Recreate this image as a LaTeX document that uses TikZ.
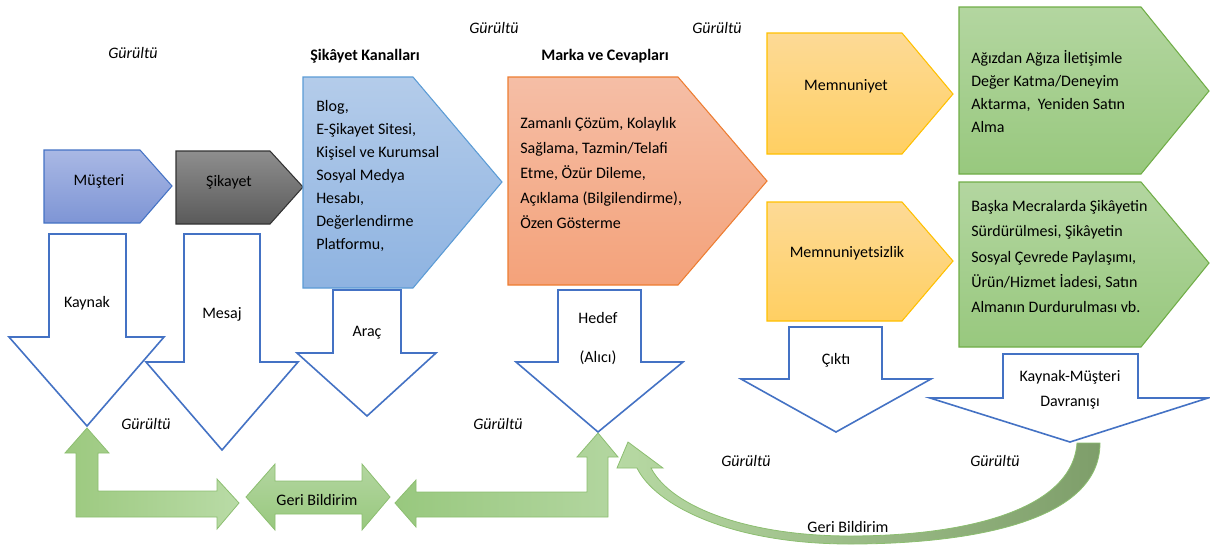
\documentclass[tikz,border=0pt]{standalone}
\usepackage{fontspec}
\setmainfont{Carlito}
\definecolor{arrowblue}{HTML}{4472C4}
\definecolor{mtop}{HTML}{A9B8E4}
\definecolor{mbot}{HTML}{7E95D5}
\definecolor{mbord}{HTML}{4472C4}
\definecolor{gtop}{HTML}{8E8E8E}
\definecolor{gbot}{HTML}{5A5A5A}
\definecolor{gbord}{HTML}{333333}
\definecolor{ktop}{HTML}{B4CCEA}
\definecolor{kbot}{HTML}{8EB3E1}
\definecolor{kbord}{HTML}{5B9BD5}
\definecolor{otop}{HTML}{F5BEA6}
\definecolor{obot}{HTML}{F4A27A}
\definecolor{obord}{HTML}{ED7D31}
\definecolor{ytop}{HTML}{FDDA96}
\definecolor{ybot}{HTML}{FFCF62}
\definecolor{ybord}{HTML}{FFC000}
\definecolor{grtop}{HTML}{B3D6A0}
\definecolor{grbot}{HTML}{98C87E}
\definecolor{grbord}{HTML}{70AD47}
\definecolor{fbA}{HTML}{9CC97F}
\definecolor{fbB}{HTML}{B9DBA6}
\definecolor{fbbord}{HTML}{8CBE70}
\definecolor{curvL}{HTML}{B7D9A3}
\definecolor{curvR}{HTML}{7E9E6A}
\begin{document}
\begin{tikzpicture}[x=0.75pt,y=-0.75pt,
  lbl/.style={font=\fontsize{12}{14}\selectfont, inner sep=0pt, anchor=base},
  noise/.style={font=\fontsize{12}{14}\selectfont\itshape, inner sep=0pt, anchor=base},
  head/.style={font=\fontsize{12}{14}\selectfont\bfseries, inner sep=0pt, anchor=base},
  body/.style={inner sep=0pt, anchor=north west, align=left},
  outarrow/.style={draw=arrowblue, line width=1.2pt, fill=white, line join=miter},
  pent/.style={line width=0.8pt, line join=miter},
  fback/.style={draw=fbbord, line width=0.6pt, line join=miter}
]
\useasboundingbox (0,0) rectangle (1210,544);

% pentagons
\path[pent, draw=mbord, top color=mtop, bottom color=mbot] (44,150) -- (140,150) -- (172,186) -- (140,223) -- (44,223) -- cycle;
\path[pent, draw=gbord, top color=gtop, bottom color=gbot] (176,151) -- (270,151) -- (303,187) -- (270,224) -- (176,224) -- cycle;
\path[pent, draw=kbord, top color=ktop, bottom color=kbot] (303,77) -- (413,77) -- (502,182) -- (413,288) -- (303,288) -- cycle;
\path[pent, draw=obord, top color=otop, bottom color=obot] (508,77) -- (678,77) -- (767,181) -- (678,285) -- (508,285) -- cycle;
\path[pent, draw=ybord, top color=ytop, bottom color=ybot] (767,33) -- (902,33) -- (953,94) -- (902,154) -- (767,154) -- cycle;
\path[pent, draw=ybord, top color=ytop, bottom color=ybot] (767,202) -- (902,202) -- (953,261) -- (902,321) -- (767,321) -- cycle;
\path[pent, draw=grbord, top color=grtop, bottom color=grbot] (959,7) -- (1141,7) -- (1209,91) -- (1141,174) -- (959,174) -- cycle;
\path[pent, draw=grbord, top color=grtop, bottom color=grbot] (959,182) -- (1141,182) -- (1209,263) -- (1141,347) -- (959,347) -- cycle;

% outlined down arrows
\path[outarrow] (49,234) -- (126,234) -- (126,337) -- (164,337) -- (87,426) -- (9,337) -- (49,337) -- cycle;
\path[outarrow] (184,234) -- (260,234) -- (260,362) -- (298,362) -- (222,450) -- (146,362) -- (184,362) -- cycle;
\path[outarrow] (333,290) -- (401,290) -- (401,353) -- (436,353) -- (367,416) -- (297,353) -- (333,353) -- cycle;
\path[outarrow] (558,290) -- (641,290) -- (641,362) -- (683,362) -- (598,432) -- (516,362) -- (558,362) -- cycle;
\path[outarrow] (789,327) -- (882,327) -- (882,379) -- (931,379) -- (836,432) -- (741,379) -- (789,379) -- cycle;
\path[outarrow] (1003,354) -- (1138,354) -- (1138,398) -- (1208,398) -- (1070,442) -- (930,398) -- (1003,398) -- cycle;

% feedback arrows
\path[fback, left color=fbA, right color=fbB] (76,517) -- (217,517) -- (217,529) -- (239,503) -- (217,479) -- (217,491) -- (98,491) -- (98,453) -- (109,453) -- (87,428) -- (65,453) -- (76,453) -- cycle;
\path[fback, top color=grtop, bottom color=grbot] (246,497) -- (275,464) -- (275,481) -- (362,481) -- (362,464) -- (390,497) -- (362,530) -- (362,514) -- (275,514) -- (275,530) -- cycle;
\path[fback, left color=grbot, right color=grtop] (395,503) -- (416,480) -- (416,492) -- (587,492) -- (587,457) -- (577,457) -- (598,433) -- (618,457) -- (608,457) -- (608,517) -- (416,517) -- (416,527) -- cycle;
\path[fback, left color=curvL, right color=curvR] (1077,443) -- (1100,443)
   .. controls (1100,525) and (960,544) .. (850,544)
   .. controls (730,544) and (655,505) .. (637,468)
   -- (617,468) -- (628,442) -- (663,468) -- (651,468)
   .. controls (672,508) and (750,536) .. (850,536)
   .. controls (960,536) and (1072,512) .. (1077,443) -- cycle;

% labels
\node[lbl] (musteri) at (99,185) {Müşteri};
\node[lbl, text=black] (sikayet) at (229,186) {Şikayet};
\node[lbl] (kaynak) at (87,307) {Kaynak};
\node[lbl] (mesaj) at (222,318) {Mesaj};
\node[lbl] (arac) at (367,336) {Araç};
\node[lbl] (hedef) at (598,323) {Hedef};
\node[lbl] (alici) at (598,362) {(Alıcı)};
\node[lbl] (memn) at (846,90) {Memnuniyet};
\node[lbl] (memnsiz) at (847,257) {Memnuniyetsizlik};
\node[lbl] (cikti) at (836,364) {Çıktı};
\node[lbl] (km) at (1070,381) {Kaynak-Müşteri};
\node[lbl] (davr) at (1070,406) {Davranışı};
\node[lbl] (geri1) at (317,505) {Geri Bildirim};
\node[lbl] (geri2) at (848,532) {Geri Bildirim};

\node[head] (kanalhead) at (365,60) {Şikâyet Kanalları};
\node[head] (markahead) at (605,60) {Marka ve Cevapları};

\node[noise] (n1) at (133,58) {Gürültü};
\node[noise] (n2) at (494,33) {Gürültü};
\node[noise] (n3) at (717,33) {Gürültü};
\node[noise] (n4) at (146,429) {Gürültü};
\node[noise] (n5) at (498,429) {Gürültü};
\node[noise] (n6) at (746,466) {Gürültü};
\node[noise] (n7) at (995,466) {Gürültü};

\node[body, font=\fontsize{12}{17.25}\selectfont] (kanaltxt) at (316,95)
  {\strut Blog,\\E-Şikayet Sitesi,\\Kişisel ve Kurumsal\\Sosyal Medya\\Hesabı,\\Değerlendirme\\Platformu,};
\node[body, font=\fontsize{12}{18.75}\selectfont] (markatxt) at (520,110.5)
  {\strut Zamanlı Çözüm, Kolaylık\\Sağlama, Tazmin/Telafi\\Etme, Özür Dileme,\\Açıklama (Bilgilendirme),\\Özen Gösterme};
\node[body, font=\fontsize{12}{17.25}\selectfont] (g1txt) at (971,47)
  {\strut Ağızdan Ağıza İletişimle\\Değer Katma/Deneyim\\Aktarma,\ \ Yeniden Satın\\Alma};
\node[body, font=\fontsize{12}{19.1}\selectfont] (g2txt) at (971,193)
  {\strut Başka Mecralarda Şikâyetin\\Sürdürülmesi, Şikâyetin\\Sosyal Çevrede Paylaşımı,\\Ürün/Hizmet İadesi, Satın\\Almanın Durdurulması vb.};
\end{tikzpicture}
\end{document}
